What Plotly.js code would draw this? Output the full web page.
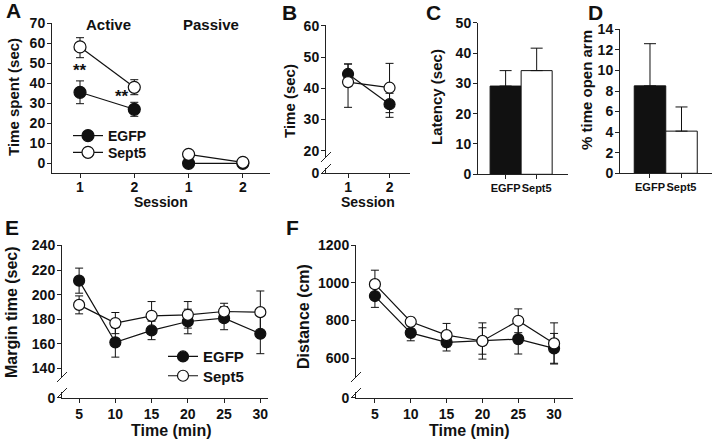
<!DOCTYPE html>
<html><head><meta charset="utf-8">
<script src="https://cdn.plot.ly/plotly-3.0.1.min.js"></script>
<style>body{margin:0;background:#fff}#c{width:715px;height:441px}</style>
</head><body><div id="c"></div>
<script>
// ---- data ----
const sessions = [1, 2];
const passiveSessions = [3, 4];
const sessionTickText = ['1', '2', '1', '2'];
const aEgfpActive = [35.5, 27];
const aEgfpActiveErrUp = [5.7, 3.5];
const aEgfpActiveErrDn = [5.7, 3.5];
const aSept5Active = [58.2, 38];
const aSept5ActiveErrUp = [4.6, 3.8];
const aSept5ActiveErrDn = [5.4, 3.7];
const aEgfpPassive = [0, 0];
const aEgfpPassiveErr = [0.3, 0.2];
const aSept5Passive = [4.5, 0.5];
const aSept5PassiveErr = [0.6, 0.2];

const bEgfp = [44.6, 34.9];
const bEgfpErrUp = [3.2, 3.5];
const bEgfpErrDn = [3.2, 4.2];
const bSept5 = [42, 40.2];
const bSept5ErrUp = [5.8, 7.8];
const bSept5ErrDn = [8.1, 8.0];

const groups = ['EGFP', 'Sept5'];
const cLatency = [29.1, 34.2];
const cLatencyErr = [5.1, 7.4];
const dOpenArm = [8.5, 4.1];
const dOpenArmErr = [4.1, 2.35];

const minutes = [5, 10, 15, 20, 25, 30];
const eEgfp = [211.4, 161.2, 170.9, 178.2, 180.9, 168.2];
const eEgfpErr = [10.2, 12, 7.5, 10, 9.4, 16.2];
const eSept5 = [191.7, 176.9, 182.8, 183.6, 186.3, 185.8];
const eSept5Err = [7.3, 8.6, 11.6, 10.8, 6.7, 17.2];

const fEgfp = [930, 735, 685, 692, 702, 653];
const fEgfpErr = [60, 42, 46, 70, 79, 79];
const fSept5 = [993, 794, 723, 692, 799, 679];
const fSept5Err = [74, 23, 62, 96, 63, 109];

// ---- layout helpers ----
const W = 715, H = 441;
const px = v => v / W;
const py = v => 1 - v / H;
const dx = (a, b) => [px(a), px(b)];
const dy = (top, bot) => [py(bot), py(top)];
const FAM = 'Liberation Sans, Arial, sans-serif';
const INK = '#111';
const tickFont = {family: FAM, size: 14, color: INK, weight: 'bold'};

function err(up, dn) {
  const e = {type: 'data', array: up, color: INK, thickness: 1, width: 4, visible: true};
  if (dn) { e.symmetric = false; e.arrayminus = dn; }
  return e;
}
function line(x, y, xa, ya, filled, size, e, name, leg, showleg) {
  return {
    type: 'scatter', mode: 'lines+markers', x: x, y: y, xaxis: xa, yaxis: ya,
    name: name, legend: leg, showlegend: !!showleg,
    line: {color: INK, width: 1.2},
    marker: {symbol: 'circle', size: size, color: filled ? INK : '#fff', line: {color: INK, width: 1.2}},
    error_y: e, cliponaxis: false
  };
}

const traces = [
  // A
  line(sessions, aEgfpActive, 'x', 'y', true, 12, err(aEgfpActiveErrUp, aEgfpActiveErrDn), 'EGFP', 'legend', true),
  line(passiveSessions, aEgfpPassive, 'x', 'y', true, 12, err(aEgfpPassiveErr), 'EGFP', 'legend', false),
  line(sessions, aSept5Active, 'x', 'y', false, 12, err(aSept5ActiveErrUp, aSept5ActiveErrDn), 'Sept5', 'legend2', true),
  line(passiveSessions, aSept5Passive, 'x', 'y', false, 12, err(aSept5PassiveErr), 'Sept5', 'legend2', false),
  // B
  line(sessions, bEgfp, 'x2', 'y2', true, 11, err(bEgfpErrUp, bEgfpErrDn), 'EGFP', 'legend', false),
  line(sessions, bSept5, 'x2', 'y2', false, 11, err(bSept5ErrUp, bSept5ErrDn), 'Sept5', 'legend', false),
  // C
  {type: 'bar', x: [0, 1], y: cLatency, xaxis: 'x3', yaxis: 'y3', width: 1, showlegend: false,
   marker: {color: [INK, '#fff'], line: {color: INK, width: 1}},
   error_y: {type: 'data', symmetric: false, array: cLatencyErr, arrayminus: [0, 0], color: INK, thickness: 1, width: 6}},
  // D
  {type: 'bar', x: [0, 1], y: dOpenArm, xaxis: 'x4', yaxis: 'y4', width: 1, showlegend: false,
   marker: {color: [INK, '#fff'], line: {color: INK, width: 1}},
   error_y: {type: 'data', symmetric: false, array: dOpenArmErr, arrayminus: [0, 0], color: INK, thickness: 1, width: 6}},
  // E
  line(minutes, eEgfp, 'x5', 'y5', true, 11, err(eEgfpErr), 'EGFP', 'legend3', true),
  line(minutes, eSept5, 'x5', 'y5', false, 11, err(eSept5Err), 'Sept5', 'legend4', true),
  // F
  line(minutes, fEgfp, 'x6', 'y6', true, 11, err(fEgfpErr), 'EGFP', 'legend', false),
  line(minutes, fSept5, 'x6', 'y6', false, 11, err(fSept5Err), 'Sept5', 'legend', false)
];

function ax(extra) {
  return Object.assign({
    showline: true, linecolor: '#222', linewidth: 1, ticks: 'outside', ticklen: 4,
    tickcolor: '#222', tickwidth: 1, showgrid: false, zeroline: false, tickfont: tickFont,
    fixedrange: true, ticklabelstandoff: -1
  }, extra);
}

const eTicks = [116.2, 140, 160, 180, 200, 220, 240];
const fTicks = [391.5, 600, 800, 1000, 1200];
const bTicks = [12.75, 20, 30, 40, 50, 60];
const breakText = v => v.map((t, i) => i === 0 ? '0' : String(t));
const barTickFont = {family: FAM, size: 11, color: INK, weight: 'bold'};

const layout = {
  width: W, height: H, margin: {l: 0, r: 0, t: 0, b: 0},
  paper_bgcolor: '#fff', plot_bgcolor: 'rgba(0,0,0,0)',
  font: {family: FAM, color: INK},
  xaxis: ax({domain: dx(52, 270), range: [0.484, 4.5], anchor: 'y', tickvals: [1, 2, 3, 4], ticktext: sessionTickText, ticklabelstandoff: -3}),
  yaxis: ax({domain: dy(22.7, 172.7), range: [-4.7, 70.3], anchor: 'x', tickvals: [0, 10, 20, 30, 40, 50, 60, 70]}),
  xaxis2: ax({domain: dx(326, 410), range: [0.469, 2.493], anchor: 'y2', tickvals: [1, 2], ticklabelstandoff: -3}),
  yaxis2: ax({domain: dy(25, 173.3), range: [12.75, 60.3], anchor: 'x2', tickvals: bTicks, ticktext: breakText(bTicks)}),
  xaxis3: ax({domain: dx(478, 568), range: [-0.89, 2.01], anchor: 'y3', tickvals: [0, 1], ticktext: groups,
              tickfont: barTickFont, tickangle: 0, ticklabelstandoff: -1}),
  yaxis3: ax({domain: dy(22.7, 174.3), range: [0, 50], anchor: 'x3', tickvals: [0, 10, 20, 30, 40, 50]}),
  xaxis4: ax({domain: dx(620, 712), range: [-0.952, 1.968], anchor: 'y4', tickvals: [0, 1], ticktext: groups,
              tickfont: barTickFont, tickangle: 0, ticklabelstandoff: -1}),
  yaxis4: ax({domain: dy(29.3, 173.3), range: [0, 14], anchor: 'x4', tickvals: [0, 2, 4, 6, 8, 10, 12, 14]}),
  xaxis5: ax({domain: dx(62, 268.3), range: [2.64, 31.1], anchor: 'y5', tickvals: minutes}),
  yaxis5: ax({domain: dy(245, 397.7), range: [116.2, 240.4], anchor: 'x5', tickvals: eTicks, ticktext: breakText(eTicks)}),
  xaxis6: ax({domain: dx(356, 572.7), range: [2.36, 32.6], anchor: 'y6', tickvals: minutes}),
  yaxis6: ax({domain: dy(245, 397.7), range: [391.5, 1200.5], anchor: 'x6', tickvals: fTicks, ticktext: breakText(fTicks)}),
  showlegend: true,
  legend: {x: px(68), y: py(136), xanchor: 'left', yanchor: 'middle', bgcolor: 'rgba(0,0,0,0)',
           font: {family: FAM, size: 14, color: INK, weight: 'bold'}, borderwidth: 0},
  legend2: {x: px(68), y: py(152.7), xanchor: 'left', yanchor: 'middle', bgcolor: 'rgba(0,0,0,0)',
           font: {family: FAM, size: 14, color: INK, weight: 'bold'}, borderwidth: 0},
  legend3: {x: px(163), y: py(356.7), xanchor: 'left', yanchor: 'middle', bgcolor: 'rgba(0,0,0,0)',
           font: {family: FAM, size: 15, color: INK, weight: 'bold'}, borderwidth: 0},
  legend4: {x: px(163), y: py(376), xanchor: 'left', yanchor: 'middle', bgcolor: 'rgba(0,0,0,0)',
           font: {family: FAM, size: 15, color: INK, weight: 'bold'}, borderwidth: 0},
  annotations: [],
  shapes: []
};

function note(text, x, y, size, angle) {
  layout.annotations.push({text: text, x: px(x), y: py(y), xref: 'paper', yref: 'paper',
    showarrow: false, xanchor: 'center', yanchor: 'middle', textangle: angle || 0,
    font: {family: FAM, size: size, color: INK, weight: 'bold'}});
}
// panel letters
note('A', 13, 11, 21); note('B', 289, 12, 21); note('C', 433, 13, 21);
note('D', 595, 13, 21); note('E', 12, 227, 21); note('F', 292, 227, 21);
// axis titles
note('Time spent (sec)', 14, 97, 15, -90);
note('Session', 161, 202, 14);
note('Time (sec)', 289, 101, 15, -90);
note('Session', 368, 202, 14);
note('Latency (sec)', 437, 97, 15, -90);
note('% time open arm', 586, 90, 15, -90);
note('Margin time (sec)', 11, 312, 16, -90);
note('Time (min)', 171, 430, 16);
note('Distance (cm)', 303, 317, 16, -90);
note('Time (min)', 470, 430, 16);
// condition labels and significance
note('Active', 108, 25, 15); note('Passive', 211, 25, 15);
note('**', 80, 70, 17); note('**', 122, 97, 17);

// axis break marks (decoration)
function brk(axX, top, bot) {
  layout.shapes.push({type: 'rect', xref: 'paper', yref: 'paper', x0: px(axX - 2), x1: px(axX + 2),
    y0: py(bot - 1), y1: py(top), fillcolor: '#fff', line: {width: 0}, layer: 'above'});
  [top, bot].forEach(function (c) {
    layout.shapes.push({type: 'line', xref: 'paper', yref: 'paper', x0: px(axX - 5), y0: py(c + 5),
      x1: px(axX + 5), y1: py(c - 5), line: {color: '#222', width: 1}, layer: 'above'});
  });
}
brk(326, 157, 169);
brk(62, 377, 393);
brk(356, 377, 393);

Plotly.newPlot('c', traces, layout, {staticPlot: true, displayModeBar: false});
</script>
</body></html>
